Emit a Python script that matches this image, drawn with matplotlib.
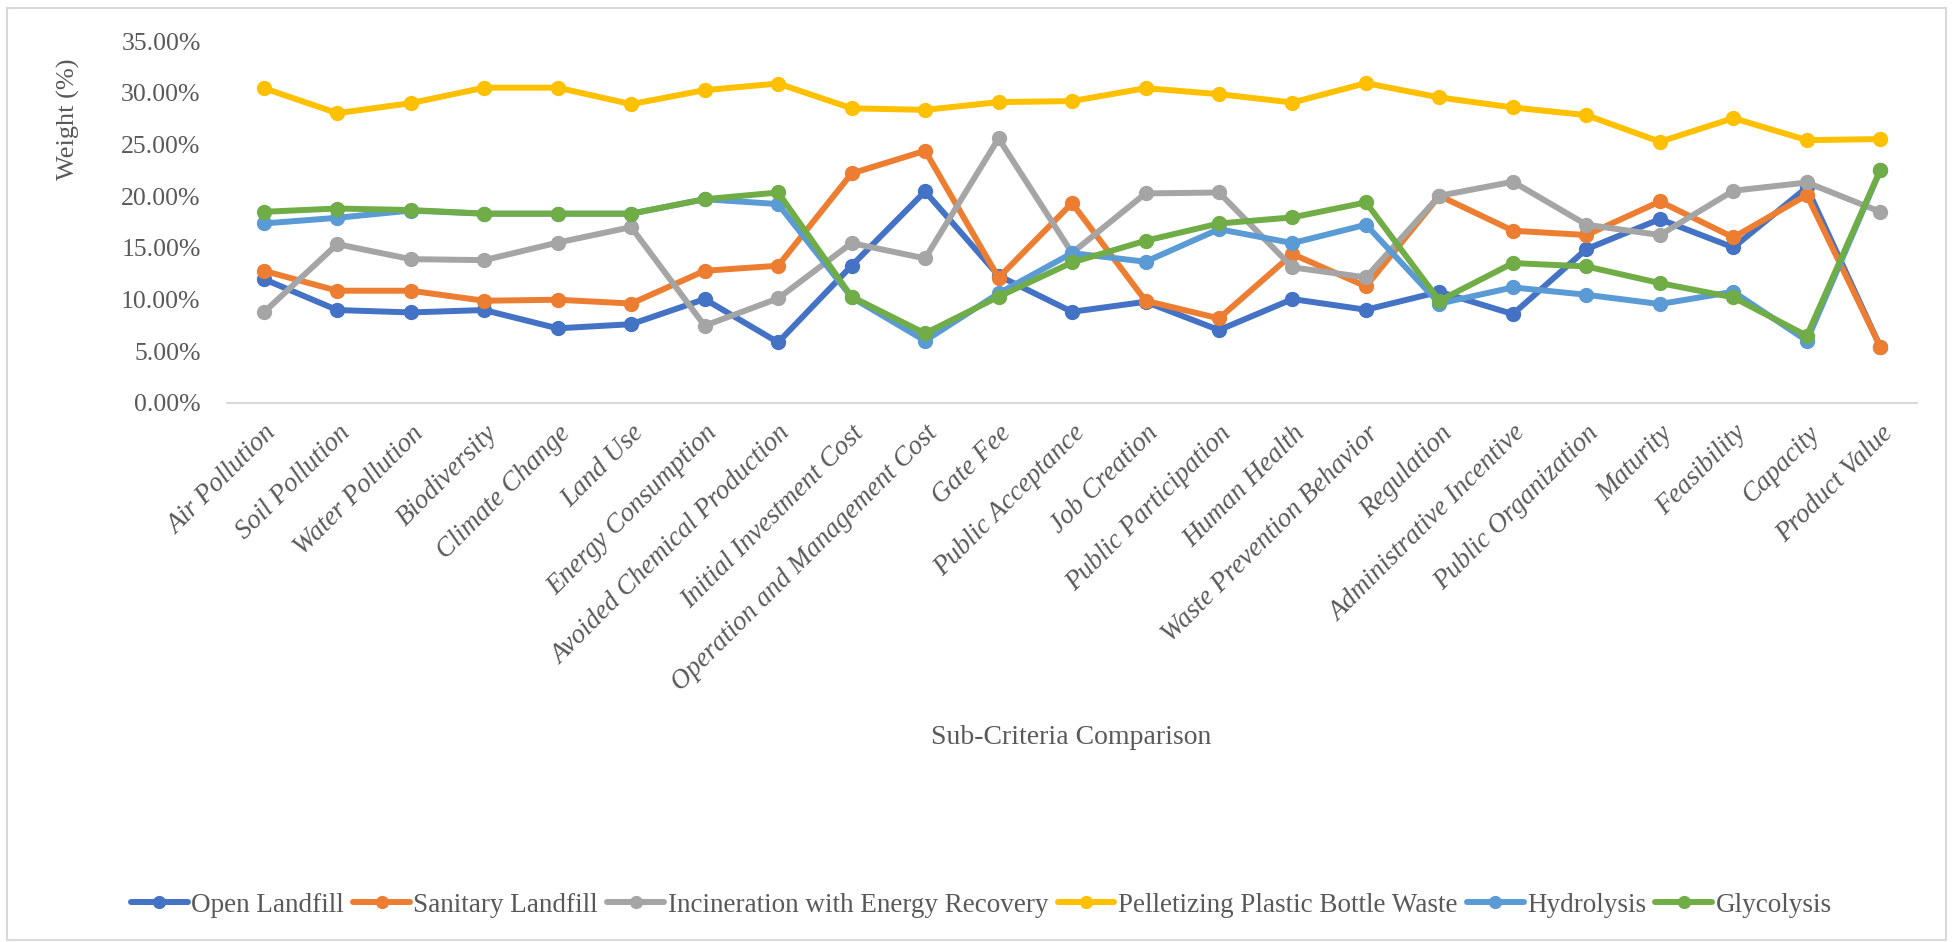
import matplotlib
matplotlib.use("Agg")
import matplotlib.pyplot as plt
from matplotlib.ticker import FuncFormatter
from matplotlib.patches import Rectangle

categories = [
    "Air Pollution", "Soil Pollution", "Water Pollution", "Biodiversity",
    "Climate Change", "Land Use", "Energy Consumption",
    "Avoided Chemical Production", "Initial Investment Cost",
    "Operation and Management Cost", "Gate Fee", "Public Acceptance",
    "Job Creation", "Public Participation", "Human Health",
    "Waste Prevention Behavior", "Regulation", "Administrative Incentive",
    "Public Organization", "Maturity", "Feasibility", "Capacity",
    "Product Value",
]

# Weights in percent
open_landfill = [11.97, 8.97, 8.74, 8.97, 7.20, 7.60, 10.03, 5.84, 13.26, 20.45,
                 12.30, 8.80, 9.77, 7.03, 10.03, 9.00, 10.74, 8.58, 14.87, 17.77,
                 15.03, 20.84, 5.40]
sanitary_landfill = [12.77, 10.84, 10.84, 9.87, 9.97, 9.60, 12.77, 13.26, 22.19, 24.39,
                     12.10, 19.32, 9.87, 8.16, 14.39, 11.26, 20.03, 16.65, 16.23, 19.48,
                     16.00, 20.10, 5.42]
incineration = [8.74, 15.35, 13.90, 13.80, 15.50, 17.00, 7.45, 10.10, 15.45, 13.97,
                25.58, 14.50, 20.26, 20.35, 13.10, 12.13, 20.03, 21.39, 17.23, 16.23,
                20.52, 21.32, 18.48]
pelletizing = [30.45, 28.03, 29.00, 30.50, 30.50, 28.90, 30.26, 30.90, 28.50, 28.35,
               29.10, 29.20, 30.45, 29.87, 29.06, 30.94, 29.55, 28.58, 27.84, 25.26,
               27.55, 25.42, 25.52]
hydrolysis = [17.35, 17.90, 18.60, 18.30, 18.30, 18.30, 19.70, 19.23, 10.20, 6.00,
              10.58, 14.48, 13.65, 16.80, 15.45, 17.23, 9.60, 11.16, 10.45, 9.55,
              10.74, 6.00, 22.50]
glycolysis = [18.48, 18.80, 18.65, 18.30, 18.30, 18.30, 19.70, 20.35, 10.26, 6.71,
              10.26, 13.58, 15.68, 17.35, 17.94, 19.39, 9.87, 13.52, 13.19, 11.58,
              10.19, 6.48, 22.52]

series = [
    ("Open Landfill", open_landfill, "#4472C4"),
    ("Sanitary Landfill", sanitary_landfill, "#ED7D31"),
    ("Incineration with Energy Recovery", incineration, "#A5A5A5"),
    ("Pelletizing Plastic Bottle Waste", pelletizing, "#FFC000"),
    ("Hydrolysis", hydrolysis, "#5B9BD5"),
    ("Glycolysis", glycolysis, "#70AD47"),
]

TEXT = "#595959"
FONT = ["Liberation Serif", "DejaVu Serif"]
plt.rcParams["font.family"] = FONT

fig = plt.figure(figsize=(19.52, 9.42), dpi=100)
fig.patches.append(Rectangle((7 / 1952, 2 / 942), 1939 / 1952, 932 / 942,
                             transform=fig.transFigure, fill=False,
                             edgecolor="#D9D9D9", linewidth=1.5))

ax = fig.add_axes([0.1163, 0.5725, 0.8658, 0.3838])
x = list(range(len(categories)))
for name, vals, color in series:
    ax.plot(x, vals, color=color, linewidth=4.3, marker="o", markersize=10,
            label=name, solid_capstyle="round", solid_joinstyle="round")

ax.set_xlim(-0.5, len(categories) - 0.5)
ax.set_ylim(0, 35)
ax.set_yticks(range(0, 36, 5))
ax.yaxis.set_major_formatter(FuncFormatter(lambda v, p: f"{v:.2f}%"))
ax.set_xticks(x)
ax.set_xticklabels(categories, rotation=45, ha="right", va="top",
                   rotation_mode="anchor", fontstyle="italic", fontsize=19.5)

for s in ["top", "right", "left"]:
    ax.spines[s].set_visible(False)
ax.spines["bottom"].set_color("#D9D9D9")
ax.spines["bottom"].set_linewidth(1.5)
ax.tick_params(axis="both", length=0, colors=TEXT)
ax.tick_params(axis="y", pad=19, labelsize=18.5)
ax.tick_params(axis="x", pad=13)

fig.text(68 / 1952, 1 - 119 / 942, "Weight (%)", rotation=90, ha="center",
         va="center", fontsize=19, color=TEXT)
fig.text(1071 / 1952, 1 - 737 / 942, "Sub-Criteria Comparison", ha="center",
         va="center", fontsize=20, color=TEXT)

leg = fig.legend(loc="center", bbox_to_anchor=(0.5027, 1 - 905 / 942), ncol=6,
                 frameon=False, fontsize=19.5, handlelength=2.1, columnspacing=0.35,
                 handletextpad=0.12, markerscale=0.85)
for t in leg.get_texts():
    t.set_color(TEXT)

fig.savefig("out.png", dpi=100)
